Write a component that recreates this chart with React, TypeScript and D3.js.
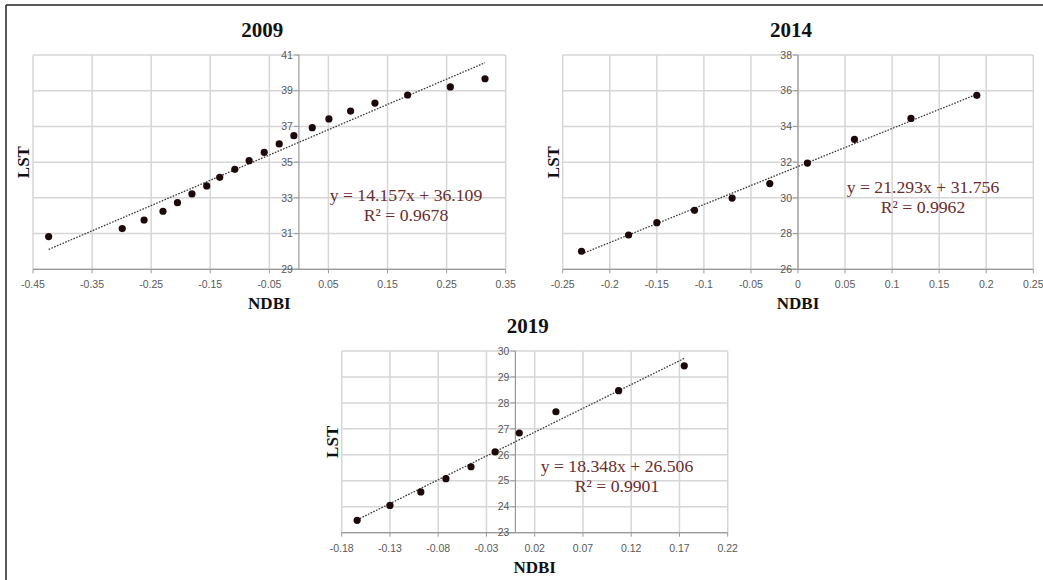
import { scaleLinear } from 'd3';

// NDBI vs LST samples
const ndbi2009 = [-0.4235, -0.299, -0.262, -0.23, -0.2055, -0.181, -0.156, -0.134, -0.1084, -0.0842, -0.0587, -0.0333, -0.0085, 0.0226, 0.0508, 0.0875, 0.1287, 0.184, 0.2563, 0.315];
const lst2009 = [30.83, 31.28, 31.76, 32.25, 32.73, 33.22, 33.67, 34.15, 34.6, 35.08, 35.55, 36.02, 36.48, 36.93, 37.42, 37.86, 38.31, 38.76, 39.21, 39.67];

const ndbi2014 = [-0.23, -0.18, -0.15, -0.11, -0.07, -0.03, 0.01, 0.06, 0.12, 0.19];
const lst2014 = [27.01, 27.92, 28.61, 29.3, 29.99, 30.8, 31.95, 33.28, 34.45, 35.74];

const ndbi2019 = [-0.164, -0.13, -0.098, -0.072, -0.046, -0.021, 0.004, 0.042, 0.107, 0.175];
const lst2019 = [23.475, 24.05, 24.57, 25.08, 25.54, 26.11, 26.84, 27.66, 28.47, 29.43];

// trendline fits as printed on the chart
const fit2009 = { slope: 14.157, intercept: 36.109, r2: '0.9678' };
const fit2014 = { slope: 21.293, intercept: 31.756, r2: '0.9962' };
const fit2019 = { slope: 18.348, intercept: 26.506, r2: '0.9901' };

const xTicks2009 = ['-0.45', '-0.35', '-0.25', '-0.15', '-0.05', '0.05', '0.15', '0.25', '0.35'];
const yTicks2009 = ['29', '31', '33', '35', '37', '39', '41'];
const xTicks2014 = ['-0.25', '-0.2', '-0.15', '-0.1', '-0.05', '0', '0.05', '0.1', '0.15', '0.2', '0.25'];
const yTicks2014 = ['26', '28', '30', '32', '34', '36', '38'];
const xTicks2019 = ['-0.18', '-0.13', '-0.08', '-0.03', '0.02', '0.07', '0.12', '0.17', '0.22'];
const yTicks2019 = ['23', '24', '25', '26', '27', '28', '29', '30'];

const gridColor = '#d6d6d6';
const axisColor = '#9a9a9a';
const tickColor = '#595959';
const eqColor = '#6a2c2c';
const serif = '"Liberation Serif", "Times New Roman", serif';
const sans = '"Liberation Sans", Arial, sans-serif';

type PanelProps = {
  title: string;
  xs: number[];
  ys: number[];
  fit: { slope: number; intercept: number; r2: string };
  xTicks: string[];
  yTicks: string[];
  left: number;
  right: number;
  top: number;
  bottom: number;
  eqX: number;
  eqY: number;
};

function Panel(p: PanelProps) {
  const xVals = p.xTicks.map(Number);
  const yVals = p.yTicks.map(Number);
  const x = scaleLinear()
    .domain([xVals[0], xVals[xVals.length - 1]])
    .range([p.left, p.right]);
  const y = scaleLinear()
    .domain([yVals[0], yVals[yVals.length - 1]])
    .range([p.bottom, p.top]);

  const x0 = Math.min(...p.xs);
  const x1 = Math.max(...p.xs);
  const axisX = x(0);
  const cx = (p.left + p.right) / 2;
  const cy = (p.top + p.bottom) / 2;

  return (
    <g>
      {/* grid */}
      {xVals.map((v, i) => (
        <line key={'gx' + i} x1={x(v)} x2={x(v)} y1={p.top} y2={p.bottom} stroke={gridColor} strokeWidth={1.5} />
      ))}
      {yVals.map((v, i) => (
        <line key={'gy' + i} x1={p.left} x2={p.right} y1={y(v)} y2={y(v)} stroke={gridColor} strokeWidth={1.5} />
      ))}

      {/* axes */}
      <line x1={p.left} x2={p.right} y1={p.bottom} y2={p.bottom} stroke={axisColor} strokeWidth={1.2} />
      {xVals.map((v, i) => (
        <line key={'tx' + i} x1={x(v)} x2={x(v)} y1={p.bottom} y2={p.bottom + 4} stroke={axisColor} strokeWidth={1} />
      ))}
      <line x1={axisX} x2={axisX} y1={p.top} y2={p.bottom} stroke={axisColor} strokeWidth={1.2} />
      {yVals.map((v, i) => (
        <line key={'ty' + i} x1={axisX - 5} x2={axisX} y1={y(v)} y2={y(v)} stroke={axisColor} strokeWidth={1} />
      ))}

      {p.xTicks.map((t, i) => (
        <text key={'lx' + i} x={x(xVals[i])} y={p.bottom + 19} textAnchor="middle" fontFamily={sans} fontSize={10.5} fill={tickColor}>
          {t}
        </text>
      ))}
      {p.yTicks.map((t, i) => (
        <text key={'ly' + i} x={axisX - 6} y={y(yVals[i])} dy="0.35em" textAnchor="end" fontFamily={sans} fontSize={10.5} fill={tickColor}>
          {t}
        </text>
      ))}

      {/* trendline */}
      <line
        x1={x(x0)}
        y1={y(p.fit.slope * x0 + p.fit.intercept)}
        x2={x(x1)}
        y2={y(p.fit.slope * x1 + p.fit.intercept)}
        stroke="#3a3a3a"
        strokeWidth={1.3}
        strokeDasharray="1.6,1.4"
      />

      {p.xs.map((v, i) => (
        <circle key={'pt' + i} cx={x(v)} cy={y(p.ys[i])} r={3.6} fill="#1c0a0a" />
      ))}

      <text x={p.eqX} y={p.eqY} textAnchor="middle" fontFamily={serif} fontSize={17.7} fill={eqColor}>
        {`y = ${p.fit.slope}x + ${p.fit.intercept}`}
      </text>
      <text x={p.eqX} y={p.eqY + 20} textAnchor="middle" fontFamily={serif} fontSize={17.7} fill={eqColor}>
        {`R² = ${p.fit.r2}`}
      </text>

      <text x={cx - 7} y={p.top - 18} textAnchor="middle" fontFamily={serif} fontWeight="bold" fontSize={21} fill="#111">
        {p.title}
      </text>
      <text x={cx} y={p.bottom + 40} textAnchor="middle" fontFamily={serif} fontWeight="bold" fontSize={17} fill="#111">
        NDBI
      </text>
      <text
        transform={`translate(${p.left - 10},${cy}) rotate(-90)`}
        textAnchor="middle"
        dy="0.35em"
        fontFamily={serif}
        fontWeight="bold"
        fontSize={17}
        fill="#111"
      >
        LST
      </text>
    </g>
  );
}

export default function App() {
  return (
    <div style={{ position: 'absolute', left: 0, top: 0 }}>
      <svg width={1043} height={580} style={{ display: 'block', background: '#fff' }}>
        <rect width={1043} height={580} fill="#fff" />
        <line x1={6} x2={1043} y1={5} y2={5} stroke="#222" strokeWidth={1.5} />
        <line x1={6} x2={6} y1={5} y2={580} stroke="#222" strokeWidth={1.5} />
        <Panel title="2009" xs={ndbi2009} ys={lst2009} fit={fit2009} xTicks={xTicks2009} yTicks={yTicks2009}
          left={33} right={505.7} top={55} bottom={269.3} eqX={406} eqY={201} />
        <Panel title="2014" xs={ndbi2014} ys={lst2014} fit={fit2014} xTicks={xTicks2014} yTicks={yTicks2014}
          left={562.7} right={1033.3} top={55} bottom={269.3} eqX={923} eqY={193} />
        <Panel title="2019" xs={ndbi2019} ys={lst2019} fit={fit2019} xTicks={xTicks2019} yTicks={yTicks2019}
          left={341.7} right={727.7} top={351} bottom={532.7} eqX={617} eqY={472} />
      </svg>
    </div>
  );
}
